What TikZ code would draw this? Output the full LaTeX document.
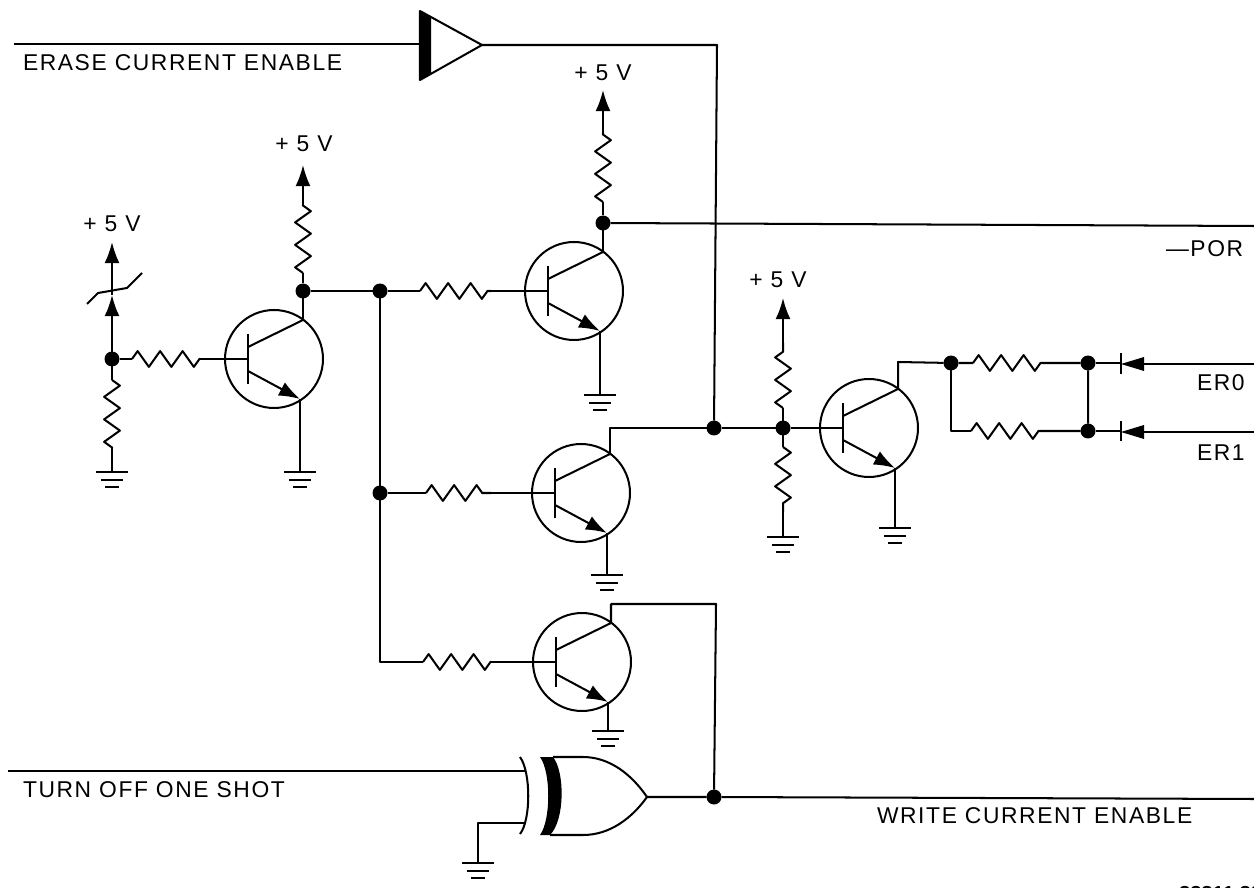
\documentclass[tikz,border=0pt]{standalone}
\usepackage{fontspec}
\setmainfont{Liberation Sans}
\newfontfamily\labfont[LetterSpace=7]{Liberation Sans}
\usetikzlibrary{decorations.pathmorphing,arrows.meta}
% npn transistor: name, x, y
\newcommand{\npn}[3]{
    \node[trcircle] (#1) at (#2,#3) {};
    \coordinate (#1b) at (#2-26,#3);
    \coordinate (#1c) at (#2+29,#3-39);
    \coordinate (#1e) at (#2+26,#3+40);
    \draw[barline] (#2-26,#3-25)--(#2-26,#3+25);
    \draw (#2-26,#3-12)--(#1c);
    \draw[emit] (#2-26,#3+12)--(#1e);
}
% ground: name, x, y
\newcommand{\gnd}[3]{
    \coordinate (#1) at (#2,#3);
    \draw (#2-16,#3)--(#2+16,#3);
    \draw (#2-11,#3+8)--(#2+11,#3+8);
    \draw (#2-7,#3+15)--(#2+7,#3+15);
}
\begin{document}
\begin{tikzpicture}[x=0.02cm,y=-0.02cm,line width=1.15pt,join=round]
    \tikzstyle{trcircle} = [circle,draw,minimum size=1.96cm,inner sep=0pt]
    \tikzstyle{barline} = [line width=1.3pt]
    \tikzstyle{emit} = [-{Latex[length=12pt,width=8.5pt]}]
    \tikzstyle{up} = [-{Latex[length=12pt,width=8.5pt]}]
    \tikzstyle{dot} = [circle,fill=black,minimum size=0.3cm,inner sep=0pt,outer sep=0pt]
    \tikzstyle{res} = [decorate,decoration={zigzag,segment length=12.8pt,amplitude=4.5pt}]
    \tikzstyle{lab} = [inner sep=0pt,font=\labfont\fontsize{13}{15}\selectfont]
    \useasboundingbox (0,0) rectangle (1254,888);
    % transistors
    \npn{qa}{274}{359}
    \npn{qb}{574}{291}
    \npn{qc}{581}{493}
    \npn{qd}{582}{662}
    \npn{qe}{869}{428}
    % junctions
    \node[dot] (ja) at (112,359) {};
    \node[dot] (jb) at (303,291) {};
    \node[dot] (jc) at (380,291) {};
    \node[dot] (jd) at (380,493) {};
    \node[dot] (je) at (603,223) {};
    \node[dot] (jf) at (714,428) {};
    \node[dot] (jg) at (783,428) {};
    \node[dot] (jh) at (951,363) {};
    \node[dot] (ji) at (1088,363) {};
    \node[dot] (jj) at (1088,431) {};
    \node[dot] (jk) at (714,797) {};
    % grounds
    \gnd{ga}{112}{472}
    \gnd{gb}{300}{472}
    \gnd{gc}{600}{395}
    \gnd{gd}{607}{575}
    \gnd{ge}{608}{731}
    \gnd{gf}{783}{537}
    \gnd{gg}{895}{528}
    \gnd{gh}{478}{863}
    % supply ends
    \coordinate (va) at (112,242);
    \coordinate (vb) at (303,165);
    \coordinate (vc) at (603,90);
    \coordinate (vd) at (783,298);
    % resistors
    \coordinate (ra1) at (112,380);
    \coordinate (ra2) at (112,448);
    \coordinate (rb1) at (132,359);
    \coordinate (rb2) at (200,359);
    \coordinate (rc1) at (303,273);
    \coordinate (rc2) at (303,205);
    \coordinate (rd1) at (420,291);
    \coordinate (rd2) at (491,291);
    \coordinate (re1) at (603,202);
    \coordinate (re2) at (603,133);
    \coordinate (rf1) at (426,493);
    \coordinate (rf2) at (491,493);
    \coordinate (rg1) at (423,662);
    \coordinate (rg2) at (491,662);
    \coordinate (rh1) at (783,408);
    \coordinate (rh2) at (783,343);
    \coordinate (ri1) at (783,447);
    \coordinate (ri2) at (783,512);
    \coordinate (rj1) at (973,363);
    \coordinate (rj2) at (1042,363);
    \coordinate (rk1) at (971,431);
    \coordinate (rk2) at (1041,431);
    \foreach \ra/\rb in {ra1/ra2,rb1/rb2,rc1/rc2,rd1/rd2,re1/re2,rf1/rf2,rg1/rg2,rh1/rh2,ri1/ri2,rj1/rj2,rk1/rk2}
        \draw[res] (\ra)--(\rb);
    % left divider
    \draw[up] (ja)--(112,295);
    \draw[up] (112,295)--(va);
    \draw (87,304)--(98,293)--(127,288)--(142,273);
    \draw (ja)--(ra1) (ra2)--(ga);
    \draw (ja)--(rb1) (rb2)--(qab);
    % first stage
    \draw[up] (rc2)--(vb);
    \draw (qac)--(jb)--(rc1) (jb)--(jc);
    \draw (qae)--(gb);
    \draw (jc)--(jd)--(380,662)--(rg1) (jc)--(rd1) (jd)--(rf1);
    \draw (rd2)--(qbb) (rf2)--(qcb) (rg2)--(qdb);
    % second stage
    \draw[up] (re2)--(vc);
    \draw (qbc)--(je)--(re1);
    \draw (qbe)--(gc);
    \draw (je)--(1254,226);
    \draw (qce)--(gd);
    \draw (qcc)--(610,428)--(jf)--(jg)--(qeb);
    \draw (jf)--(717,45)--(482,45);
    \draw (qde)--(ge);
    \draw (qdc)--(611,604)--(716,604)--(jk);
    % right stage
    \draw[up] (rh2)--(vd);
    \draw (jg)--(rh1) (jg)--(ri1) (ri2)--(gf);
    \draw (qee)--(gg);
    \draw (qec)--(898,362)--(jh)--(rj1) (rj2)--(ji)--(jj)--(rk2);
    \draw (jh)--(951,431)--(rk1);
    \draw (ji)--(1121,363);
    \draw (jj)--(1121,431);
    \draw[barline] (1121,353)--(1121,374) (1121,421)--(1121,441);
    \fill (1121,364)--(1144,357)--(1144,371)--cycle;
    \fill (1121,432)--(1144,425)--(1144,439)--cycle;
    \draw[line width=1.5pt] (1144,364)--(1254,364) (1144,432)--(1254,432);
    % driver
    \draw (14,44)--(420,44);
    \draw[fill=white] (420,11)--(482,45)--(420,80)--cycle;
    \fill (420,11)--(431,17)--(431,74)--(420,80)--cycle;
    % xor gate
    \draw (520,757) .. controls (531,772) and (531,820) .. (520,834);
    \fill (540,757) .. controls (551,772) and (551,820) .. (540,835)--(550,835)
        .. controls (565,820) and (565,772) .. (553,757)--cycle;
    \draw (553,757)--(583,757) .. controls (610,757) and (632,775) .. (647,797)
        .. controls (632,818) and (610,835) .. (583,835)--(550,835);
    \draw (8,771)--(525,771);
    \draw (525,823)--(478,823)--(gh);
    \draw (647,797)--(jk)--(1254,799);
    % labels
    \node[lab,anchor=west] (tera) at (22,63) {ERASE CURRENT ENABLE};
    \node[lab,anchor=west] (tturn) at (22,790) {TURN OFF ONE SHOT};
    \node[lab,anchor=west] (twrite) at (876,816) {WRITE CURRENT ENABLE};
    \node[lab,anchor=west] (tpor) at (1165,249) {—POR};
    \node[lab,anchor=west] (ter0) at (1196,383) {ER0};
    \node[lab,anchor=west] (ter1) at (1196,453) {ER1};
    \node[lab] (va5) at (112,224) {+ 5 V};
    \node[lab] (vb5) at (304,144) {+ 5 V};
    \node[lab] (vc5) at (603,73) {+ 5 V};
    \node[lab] (vd5) at (778,280) {+ 5 V};
    \node[inner sep=0pt,anchor=north west,font=\bfseries\fontsize{11.5}{13}\selectfont] (tnum) at (1178,885) {88811 88};
\end{tikzpicture}
\end{document}
